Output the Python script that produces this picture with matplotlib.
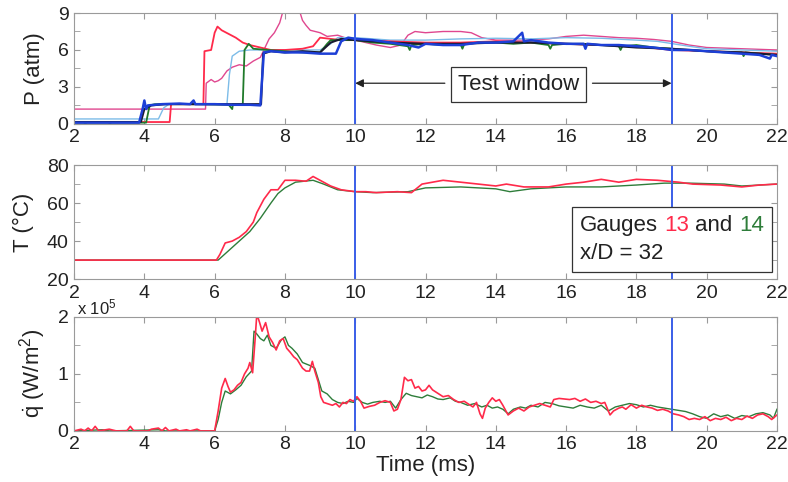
import numpy as np
import matplotlib
matplotlib.use("Agg")
import matplotlib.pyplot as plt
from matplotlib.ticker import MultipleLocator
from matplotlib.offsetbox import TextArea, HPacker, VPacker, AnchoredOffsetbox

plt.rcParams['font.family'] = ['Liberation Sans', 'DejaVu Sans']
plt.rcParams['mathtext.fontset'] = 'custom'
plt.rcParams['mathtext.rm'] = 'Liberation Sans'
plt.rcParams['mathtext.it'] = 'Liberation Sans'

# test window limits (ms)
window = [10.0, 19.0]

# ---- pressure traces (time ms, P atm) ----
p_magenta = [(2.0, 1.2), (5.74, 1.2), (5.76, 3.3), (5.9, 3.6), (6.0, 3.4), (6.1, 3.5), (6.2, 3.7),
             (6.35, 4.3), (6.5, 4.6), (6.7, 4.8), (6.9, 4.7), (7.1, 5.1), (7.3, 5.4), (7.45, 6.3),
             (7.55, 6.9), (7.7, 7.4), (7.85, 8.2), (7.95, 9.2), (8.1, 9.8), (8.3, 9.8), (8.4, 9.3),
             (8.5, 8.4), (8.6, 8.0), (8.72, 7.6), (9.0, 7.4), (9.2, 7.1), (9.5, 7.2), (9.8, 6.9),
             (10.0, 6.8), (10.3, 6.6), (10.6, 6.4), (11.0, 6.2), (11.3, 6.4), (11.5, 7.2), (11.7, 7.5),
             (12.0, 7.4), (12.5, 7.5), (13.0, 7.5), (13.3, 7.4), (13.6, 7.0), (14.0, 6.8), (15.0, 6.8),
             (15.5, 6.9), (16.0, 7.1), (16.5, 7.2), (17.0, 7.1), (17.5, 7.0), (18.0, 6.95), (18.5, 6.85),
             (19.0, 6.7), (19.5, 6.4), (20.0, 6.2), (21.0, 6.1), (22.0, 6.0)]
p_red = [(2.0, 0.15), (4.72, 0.15), (4.76, 1.6), (5.68, 1.6), (5.71, 5.9), (5.9, 6.0), (6.0, 7.4),
         (6.08, 7.9), (6.2, 7.6), (6.4, 7.3), (6.6, 7.0), (6.8, 6.6), (7.0, 6.4), (7.3, 6.2),
         (7.6, 6.0), (8.0, 6.0), (8.5, 6.1), (8.8, 6.3), (9.0, 7.0), (9.3, 6.9), (9.6, 6.8),
         (10.0, 6.8), (11.0, 6.7), (12.0, 6.6), (13.0, 6.6), (14.0, 6.7), (15.0, 6.6), (16.0, 6.5),
         (17.0, 6.4), (18.0, 6.3), (19.0, 6.0), (20.0, 5.9), (21.0, 5.8), (22.0, 5.7)]
p_cyan = [(2.0, 0.4), (4.4, 0.4), (4.55, 1.3), (4.7, 1.6), (6.35, 1.6), (6.42, 4.0), (6.5, 5.5),
          (6.7, 5.9), (7.0, 6.0), (8.0, 6.0), (9.0, 6.0), (9.3, 6.5), (9.5, 7.0), (10.0, 7.0),
          (11.0, 6.8), (12.0, 6.8), (13.0, 6.9), (14.0, 6.95), (15.0, 6.9), (16.0, 7.0), (17.0, 6.95),
          (18.0, 6.8), (18.6, 6.7), (19.5, 6.3), (20.0, 6.1), (21.0, 6.0), (22.0, 5.9)]
p_green = [(2.0, 0.1), (2.3, 0.1), (2.32, -0.3), (2.34, 0.1), (3.0, 0.1), (3.02, -0.3), (3.04, 0.1),
           (4.05, 0.1), (4.15, 1.5), (4.3, 1.6), (5.5, 1.6), (6.4, 1.55), (6.5, 1.2), (6.52, 1.6),
           (6.8, 1.6), (6.85, 6.0), (6.97, 6.5), (7.1, 6.1), (7.5, 6.0), (8.0, 5.9), (8.5, 5.8),
           (9.0, 5.8), (9.2, 6.5), (9.3, 6.8), (10.0, 6.8), (10.5, 6.6), (11.0, 6.5), (11.5, 6.3),
           (11.55, 6.0), (11.6, 6.4), (12.0, 6.5), (12.5, 6.4), (13.0, 6.45), (13.05, 6.1), (13.1, 6.45),
           (13.5, 6.6), (14.0, 6.6), (14.5, 6.5), (15.0, 6.6), (15.5, 6.4), (15.55, 6.1), (15.6, 6.4),
           (16.0, 6.5), (16.5, 6.5), (17.0, 6.4), (17.5, 6.3), (17.55, 6.0), (17.6, 6.3), (18.0, 6.4),
           (18.5, 6.2), (19.0, 6.1), (19.5, 6.0), (20.0, 5.9), (20.5, 5.8), (21.0, 5.8),
           (21.05, 5.5), (21.1, 5.8), (21.5, 5.7), (22.0, 5.6)]
p_blue = [(2.0, 0.1), (3.85, 0.1), (3.95, 1.2), (4.0, 1.9), (4.05, 1.2), (4.1, 1.5), (4.5, 1.6),
          (5.0, 1.65), (5.3, 1.6), (5.4, 1.9), (5.45, 1.6), (6.0, 1.6), (6.5, 1.55), (7.0, 1.55),
          (7.3, 1.5), (7.4, 5.8), (7.6, 5.9), (8.0, 5.8), (8.5, 5.8), (9.0, 5.7), (9.45, 5.7),
          (9.6, 6.7), (9.8, 7.0), (10.0, 6.9), (10.5, 6.8), (11.0, 6.6), (11.5, 6.4), (11.8, 6.2),
          (12.0, 6.5), (12.5, 6.4), (13.0, 6.4), (13.5, 6.6), (14.0, 6.6), (14.5, 6.7), (14.75, 7.4),
          (14.8, 6.7), (15.0, 6.8), (15.5, 6.6), (16.0, 6.5), (16.5, 6.5), (16.55, 6.1), (16.6, 6.5),
          (17.0, 6.4), (17.5, 6.4), (18.0, 6.3), (18.5, 6.2), (19.0, 6.0), (19.5, 6.0), (20.0, 5.9),
          (20.5, 5.8), (21.0, 5.7), (21.5, 5.6), (21.8, 5.3), (21.85, 5.6), (22.0, 5.5)]
p_black = [(2.0, 0.15), (3.9, 0.15), (4.0, 1.2), (4.2, 1.5), (4.6, 1.6), (6.0, 1.6), (7.0, 1.6),
           (7.32, 1.6), (7.38, 5.7), (7.6, 5.9), (8.0, 5.8), (8.5, 5.9), (9.0, 5.8), (9.3, 6.6),
           (9.6, 6.9), (10.0, 6.8), (11.0, 6.6), (12.0, 6.5), (13.0, 6.5), (14.0, 6.6), (15.0, 6.6),
           (16.0, 6.5), (17.0, 6.4), (18.0, 6.2), (19.0, 6.1), (20.0, 5.9), (21.0, 5.8), (22.0, 5.6)]

# ---- temperature traces (time ms, T degC) ----
t_g13 = [(2.0, 30.0), (6.05, 30.0), (6.15, 33.0), (6.3, 39.0), (6.5, 40.0), (6.7, 42.0), (6.9, 45.0),
         (7.1, 50.0), (7.2, 55.0), (7.4, 62.0), (7.6, 67.0), (7.8, 67.0), (8.0, 72.0), (8.3, 72.0),
         (8.6, 71.5), (8.8, 74.0), (9.0, 72.0), (9.3, 69.0), (9.6, 67.0), (10.0, 66.0), (10.3, 66.0),
         (10.6, 65.5), (11.2, 66.0), (11.6, 65.5), (11.7, 67.0), (11.9, 70.0), (12.2, 71.0),
         (12.5, 72.0), (13.0, 71.0), (13.5, 70.0), (14.0, 69.0), (14.3, 70.0), (14.8, 68.5),
         (15.5, 68.5), (16.0, 70.0), (16.5, 71.0), (17.0, 72.5), (17.5, 71.0), (18.0, 72.5),
         (18.6, 72.0), (19.2, 71.0), (19.6, 70.0), (20.4, 69.5), (21.0, 68.5), (21.5, 69.5), (22.0, 70.0)]
t_g14 = [(2.0, 30.0), (6.1, 30.0), (6.4, 35.0), (6.7, 40.0), (7.0, 45.0), (7.3, 52.0), (7.6, 60.0),
         (7.8, 65.0), (8.0, 68.0), (8.3, 71.0), (8.8, 72.0), (9.1, 70.0), (9.5, 67.0), (10.0, 66.0),
         (10.5, 65.5), (11.5, 66.0), (12.0, 68.0), (13.0, 68.5), (14.0, 67.5), (14.4, 66.0),
         (15.0, 67.5), (16.0, 68.5), (17.0, 68.5), (18.0, 69.5), (18.8, 70.5), (19.5, 70.5),
         (20.5, 70.0), (21.0, 69.0), (22.0, 70.0)]

# ---- heat flux traces (time ms, q in 1e5 W/m2) ----
q_g13 = [(2.0, 0.0), (2.2, 0.03), (2.3, 0.0), (2.4, 0.05), (2.5, 0.0), (2.6, 0.08), (2.7, 0.0),
         (2.9, 0.02), (3.0, 0.03), (3.2, 0.0), (3.5, 0.0), (3.6, 0.08), (3.7, 0.0), (4.1, 0.0),
         (4.2, 0.03), (4.4, 0.05), (4.5, 0.0), (4.6, 0.06), (4.7, 0.0), (4.9, 0.03), (5.0, 0.0),
         (5.2, 0.02), (5.3, 0.0), (5.5, 0.03), (5.6, 0.0), (6.0, 0.0), (6.1, 0.35), (6.2, 0.75),
         (6.3, 0.92), (6.38, 0.78), (6.45, 0.68), (6.55, 0.72), (6.65, 0.8), (6.75, 0.85), (6.85, 1.0),
         (6.95, 1.1), (7.0, 1.2), (7.08, 1.02), (7.15, 1.6), (7.2, 2.05), (7.28, 1.9), (7.35, 1.75),
         (7.45, 1.9), (7.55, 1.65), (7.65, 1.55), (7.75, 1.42), (7.85, 1.58), (7.95, 1.62), (8.05, 1.45),
         (8.15, 1.38), (8.25, 1.3), (8.35, 1.25), (8.5, 1.1), (8.6, 1.05), (8.7, 1.05), (8.78, 1.22),
         (8.85, 1.05), (8.95, 0.85), (9.02, 0.6), (9.1, 0.5), (9.2, 0.48), (9.35, 0.45), (9.45, 0.48),
         (9.55, 0.42), (9.65, 0.5), (9.75, 0.48), (9.85, 0.55), (9.95, 0.52), (10.05, 0.6), (10.15, 0.52),
         (10.25, 0.4), (10.4, 0.43), (10.55, 0.45), (10.7, 0.5), (10.85, 0.53), (11.0, 0.5), (11.1, 0.35),
         (11.2, 0.38), (11.3, 0.55), (11.4, 0.94), (11.5, 0.88), (11.6, 0.9), (11.7, 0.75), (11.8, 0.78),
         (11.9, 0.7), (12.0, 0.72), (12.1, 0.8), (12.2, 0.72), (12.35, 0.66), (12.5, 0.6), (12.65, 0.62),
         (12.8, 0.55), (12.95, 0.5), (13.1, 0.52), (13.2, 0.48), (13.35, 0.42), (13.45, 0.5), (13.55, 0.3),
         (13.62, 0.22), (13.7, 0.4), (13.8, 0.5), (13.9, 0.58), (14.0, 0.52), (14.1, 0.55), (14.2, 0.45),
         (14.35, 0.28), (14.5, 0.35), (14.65, 0.4), (14.8, 0.35), (14.95, 0.42), (15.1, 0.45),
         (15.25, 0.48), (15.4, 0.45), (15.55, 0.42), (15.65, 0.55), (15.8, 0.57), (15.95, 0.56),
         (16.1, 0.55), (16.25, 0.57), (16.4, 0.52), (16.55, 0.56), (16.7, 0.5), (16.85, 0.52),
         (17.0, 0.48), (17.1, 0.5), (17.25, 0.28), (17.35, 0.35), (17.5, 0.4), (17.6, 0.42), (17.7, 0.38),
         (17.85, 0.46), (18.0, 0.4), (18.15, 0.45), (18.3, 0.42), (18.45, 0.4), (18.6, 0.36), (18.75, 0.38),
         (18.9, 0.35), (19.05, 0.3), (19.2, 0.28), (19.35, 0.25), (19.5, 0.2), (19.65, 0.22), (19.8, 0.2),
         (19.95, 0.25), (20.1, 0.18), (20.25, 0.22), (20.4, 0.2), (20.55, 0.24), (20.7, 0.18),
         (20.85, 0.22), (21.0, 0.2), (21.15, 0.26), (21.3, 0.22), (21.45, 0.28), (21.6, 0.3),
         (21.75, 0.25), (21.85, 0.2), (22.0, 0.28)]
q_g14 = [(2.0, 0.0), (2.8, 0.02), (3.0, 0.0), (4.4, 0.02), (4.6, 0.0), (6.0, 0.0), (6.1, 0.2),
         (6.2, 0.5), (6.3, 0.7), (6.45, 0.65), (6.6, 0.72), (6.75, 0.8), (6.9, 0.95), (7.05, 1.05),
         (7.12, 1.75), (7.2, 1.7), (7.3, 1.62), (7.4, 1.58), (7.5, 1.68), (7.6, 1.5), (7.75, 1.45),
         (7.9, 1.6), (8.0, 1.65), (8.1, 1.5), (8.2, 1.45), (8.35, 1.35), (8.5, 1.2), (8.7, 1.15),
         (8.85, 1.1), (8.95, 0.9), (9.05, 0.7), (9.2, 0.65), (9.35, 0.55), (9.5, 0.5), (9.65, 0.48),
         (9.8, 0.52), (9.95, 0.5), (10.05, 0.57), (10.2, 0.5), (10.35, 0.47), (10.5, 0.5), (10.7, 0.52),
         (10.85, 0.5), (11.0, 0.52), (11.15, 0.4), (11.3, 0.55), (11.45, 0.66), (11.6, 0.62),
         (11.75, 0.6), (11.9, 0.58), (12.05, 0.63), (12.2, 0.6), (12.35, 0.56), (12.5, 0.55),
         (12.7, 0.58), (12.85, 0.52), (13.0, 0.5), (13.2, 0.45), (13.4, 0.48), (13.6, 0.42),
         (13.75, 0.45), (13.9, 0.4), (14.05, 0.42), (14.2, 0.38), (14.35, 0.3), (14.5, 0.38),
         (14.7, 0.42), (14.85, 0.4), (15.0, 0.45), (15.2, 0.42), (15.4, 0.5), (15.6, 0.48), (15.8, 0.44),
         (16.0, 0.42), (16.2, 0.4), (16.4, 0.45), (16.6, 0.42), (16.8, 0.4), (17.0, 0.45), (17.2, 0.35),
         (17.4, 0.42), (17.6, 0.45), (17.8, 0.48), (18.0, 0.46), (18.2, 0.42), (18.4, 0.45), (18.6, 0.42),
         (18.8, 0.4), (19.0, 0.38), (19.2, 0.36), (19.4, 0.34), (19.6, 0.3), (19.8, 0.25), (20.0, 0.22),
         (20.2, 0.3), (20.4, 0.25), (20.6, 0.28), (20.8, 0.22), (21.0, 0.27), (21.2, 0.25), (21.4, 0.3),
         (21.6, 0.32), (21.8, 0.28), (21.9, 0.22), (22.0, 0.38)]

RED = '#ff2a4a'
GREEN = '#2e7d3a'
WINDOW_BLUE = '#3a5ee8'
FRAME = '#9a9a9a'
INK = '#222222'


def draw(ax, series, color, lw):
    arr = np.array(series)
    ax.plot(arr[:, 0], arr[:, 1], color=color, lw=lw, solid_joinstyle='round')


def style(ax, ymin, ymax, major, minor):
    ax.set_xlim(2, 22)
    ax.set_ylim(ymin, ymax)
    ax.xaxis.set_major_locator(MultipleLocator(2))
    ax.yaxis.set_major_locator(MultipleLocator(major))
    ax.yaxis.set_minor_locator(MultipleLocator(minor))
    ax.tick_params(which='both', direction='in', top=True, right=True, length=4,
                   color=FRAME, labelsize=14, labelcolor=INK, pad=4)
    for s in ax.spines.values():
        s.set_color(FRAME)
        s.set_linewidth(0.8)
    for x in window:
        ax.axvline(x, color=WINDOW_BLUE, lw=1.4)


fig = plt.figure(figsize=(7.88, 4.82), dpi=100)
ax1 = fig.add_axes([0.094, 0.743, 0.892, 0.230])
ax2 = fig.add_axes([0.094, 0.421, 0.892, 0.2365])
ax3 = fig.add_axes([0.094, 0.106, 0.892, 0.2365])

# pressure
draw(ax1, p_magenta, '#e0478f', 1.0)
draw(ax1, p_cyan, '#7cbce8', 1.0)
draw(ax1, p_red, RED, 1.3)
draw(ax1, p_green, '#1f7a2a', 1.3)
draw(ax1, p_black, '#1a1a30', 1.5)
draw(ax1, p_blue, '#1d3fd6', 1.8)
style(ax1, 0, 9, 3, 1.5)
ax1.set_ylabel('P (atm)', fontsize=16, labelpad=9, color=INK)

ax1.annotate('', xy=(window[0], 3.3), xytext=(12.55, 3.3),
             arrowprops=dict(arrowstyle='-|>', color=INK, lw=0.9, shrinkA=0, shrinkB=0,
                             mutation_scale=12))
ax1.annotate('', xy=(window[1], 3.3), xytext=(16.75, 3.3),
             arrowprops=dict(arrowstyle='-|>', color=INK, lw=0.9, shrinkA=0, shrinkB=0,
                             mutation_scale=12))
ax1.text(14.65, 3.2, 'Test window', ha='center', va='center', fontsize=16, color=INK,
         bbox=dict(boxstyle='square,pad=0.32', fc='white', ec='#333333', lw=0.9))

# temperature
draw(ax2, t_g14, GREEN, 1.0)
draw(ax2, t_g13, RED, 1.2)
style(ax2, 20, 80, 20, 10)
ax2.set_ylabel('T (\u00b0C)', fontsize=16, labelpad=9, color=INK)

fs = 16
row1 = HPacker(children=[TextArea('Gauges', textprops=dict(fontsize=fs, color=INK)),
                         TextArea('13', textprops=dict(fontsize=fs, color=RED)),
                         TextArea('and', textprops=dict(fontsize=fs, color=INK)),
                         TextArea('14', textprops=dict(fontsize=fs, color=GREEN))],
               align='baseline', pad=0, sep=4.5)
row2 = TextArea('x/D = 32', textprops=dict(fontsize=fs, color=INK))
box = VPacker(children=[row1, row2], align='left', pad=0, sep=5)
anch = AnchoredOffsetbox(loc='lower right', child=box, pad=0.6, borderpad=0, frameon=True,
                         bbox_to_anchor=(0.993, 0.061), bbox_transform=ax2.transAxes)
anch.patch.set_edgecolor('#333333')
anch.patch.set_linewidth(0.9)
anch.patch.set_boxstyle('square', pad=0)
ax2.add_artist(anch)

# heat flux
draw(ax3, q_g14, GREEN, 1.0)
draw(ax3, q_g13, RED, 1.2)
style(ax3, 0, 2, 1, 0.5)
ax3.set_ylabel(r'$\dot{\mathrm{q}}$ (W/m$^{2}$)', fontsize=16, labelpad=7, color=INK)
ax3.text(0.004, 1.0, r'x 10$^{5}$', transform=ax3.transAxes, fontsize=12, color=INK,
         ha='left', va='bottom')
ax3.set_xlabel('Time (ms)', fontsize=16, labelpad=1, color=INK)

fig.savefig('out.png', dpi=100)
